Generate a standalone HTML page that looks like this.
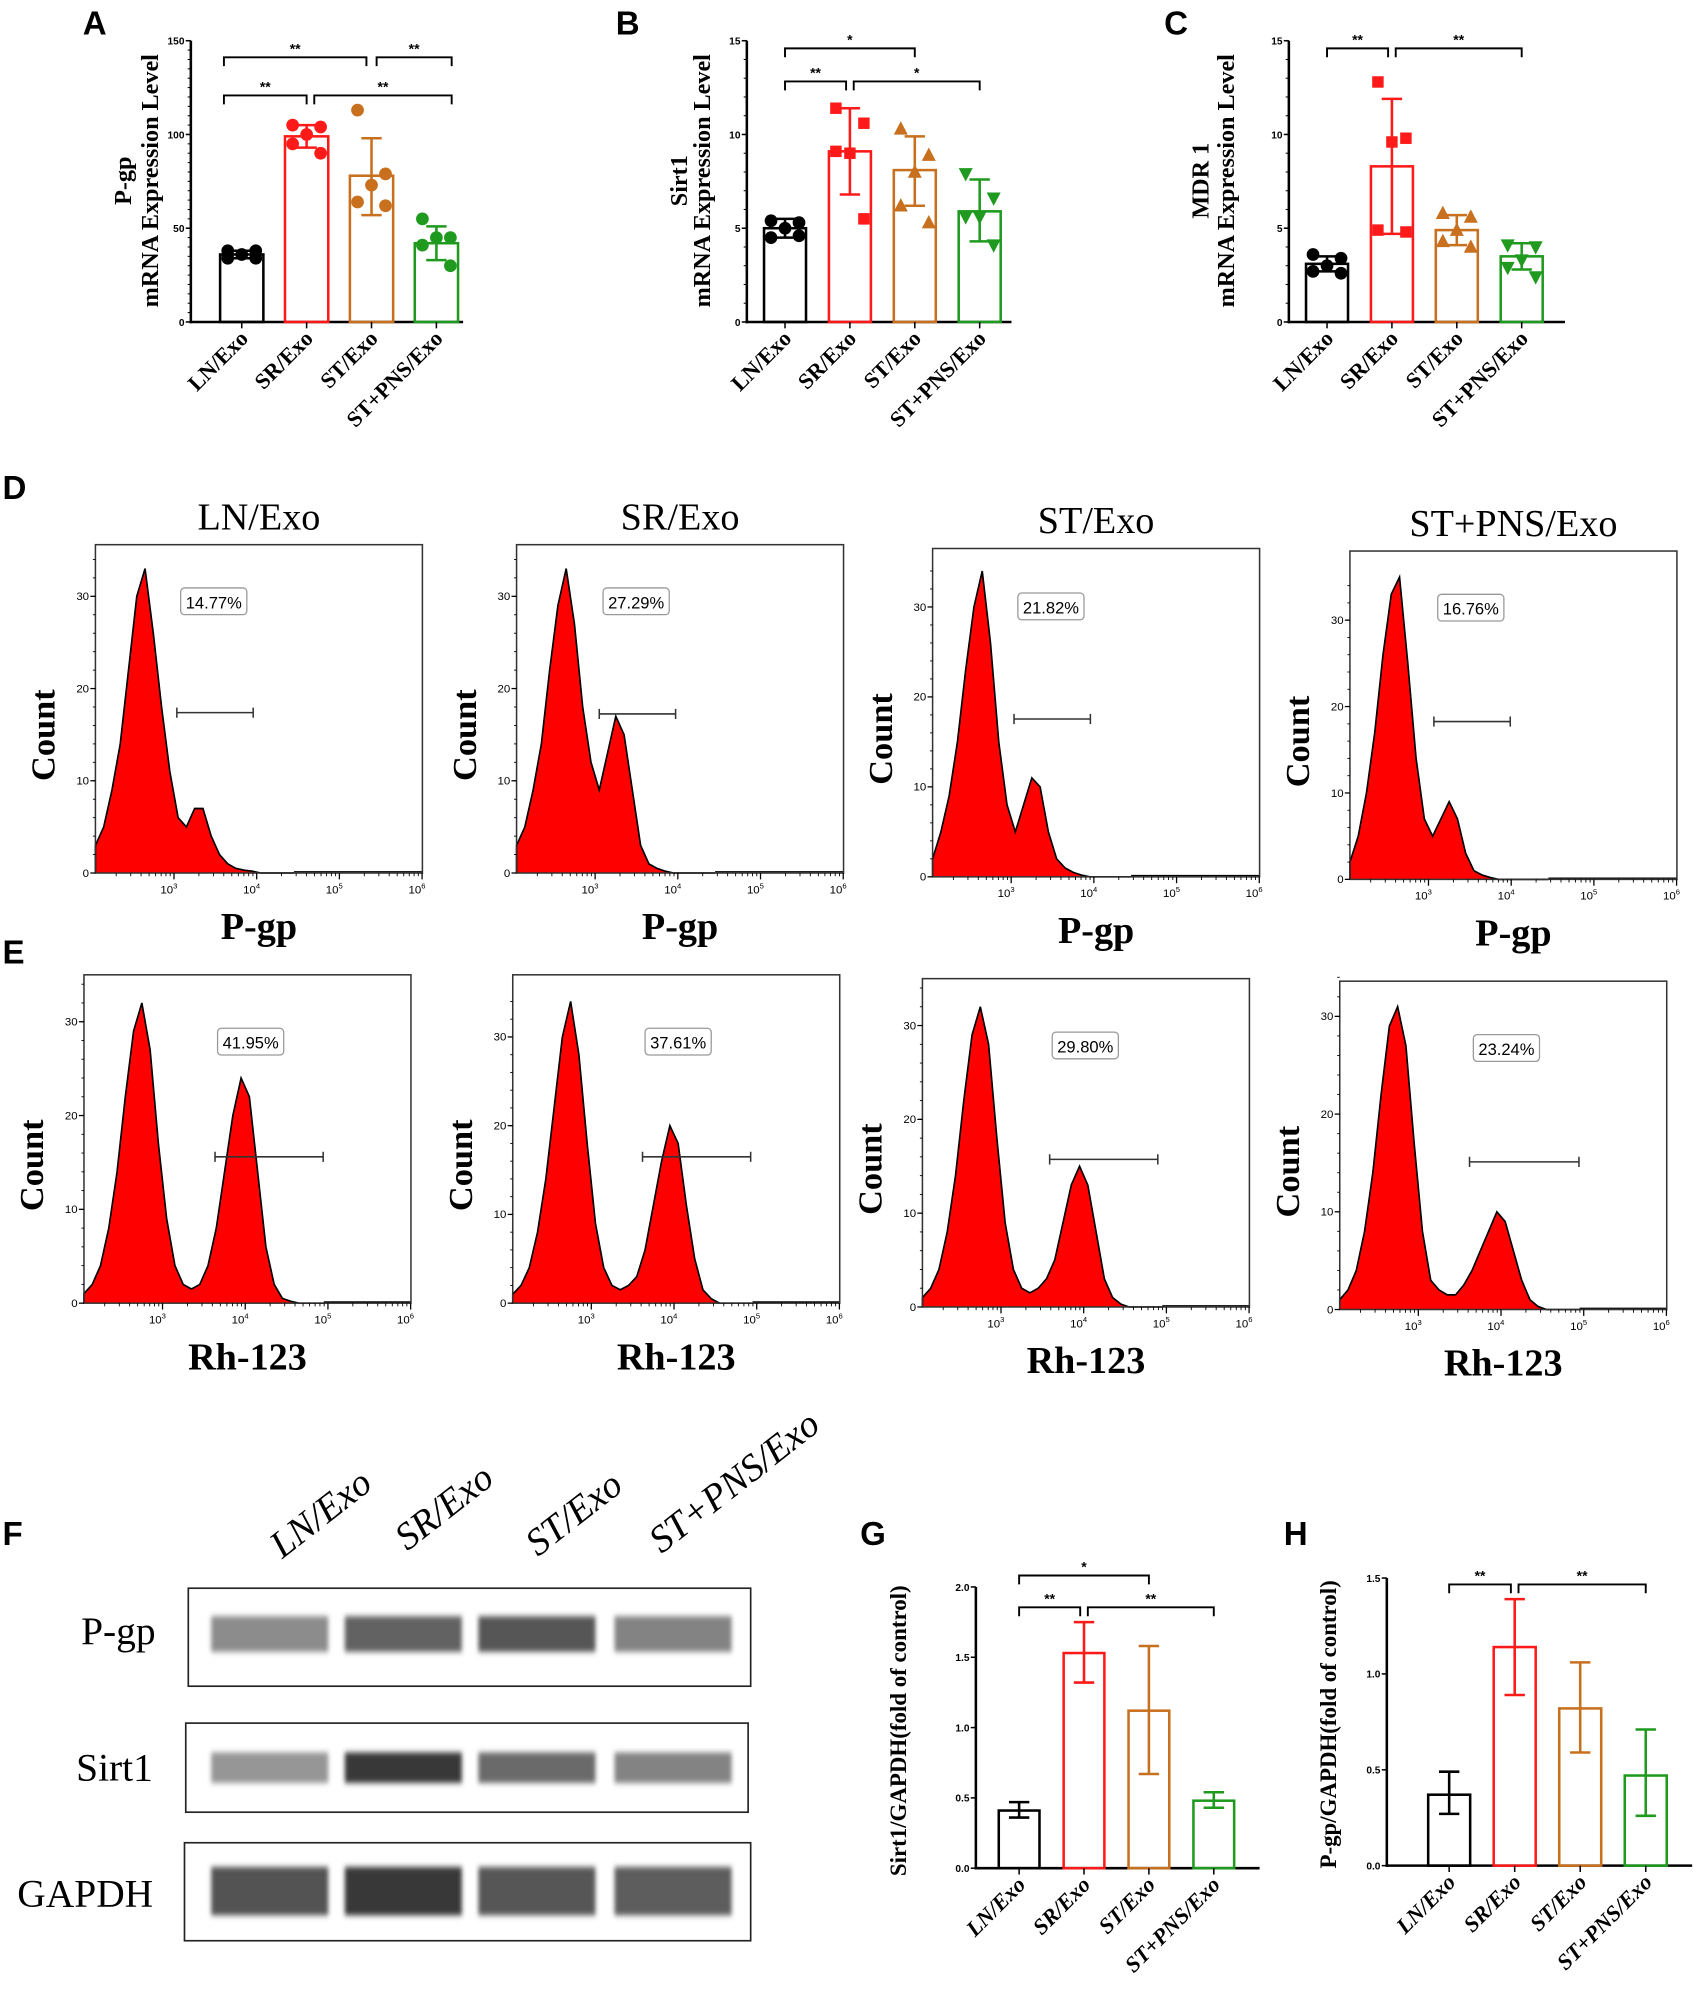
<!DOCTYPE html>
<html><head><meta charset="utf-8">
<style>
html,body{margin:0;padding:0;background:#fff;}
svg{display:block;}
text{font-family:"Liberation Serif",serif;}
.sans{font-family:"Liberation Sans",sans-serif;}
</style></head>
<body>
<svg id="fig" xmlns="http://www.w3.org/2000/svg" width="1696" height="1998" viewBox="0 0 1333 1570" preserveAspectRatio="none">
<defs>
<filter id="blur" x="-10%" y="-50%" width="120%" height="200%"><feGaussianBlur stdDeviation="1.6 2.2"/></filter>
</defs>
</svg>
<script>
// ---------- data ----------
const cats = ["LN/Exo","SR/Exo","ST/Exo","ST+PNS/Exo"];
const colors = ["#000000","#ff1a1a","#c8701e","#1f9a1f"];

const aMean = [36, 99, 78, 42];
const aLo = [34, 93, 57, 33];
const aHi = [38, 105, 98, 51];
const aPts = [[38,38,36,34,34],[105,104,100,95,90],[113,79,73,64,62],[55,45,45,41,30]];
const aTicks = [0, 50, 100, 150];

const bMean = [5.0, 9.1, 8.1, 5.9];
const bLo = [4.5, 6.8, 6.2, 4.3];
const bHi = [5.5, 11.4, 9.9, 7.6];
const bPts = [[5.4,5.3,5.0,4.5,4.6],[11.4,10.6,9.0,9.1,5.5],[10.3,8.9,8.0,6.2,5.3],[7.9,6.6,5.6,5.6,4.1]];
const bTicks = [0, 5, 10, 15];

const cMean = [3.1, 8.3, 4.9, 3.5];
const cLo = [2.7, 4.7, 4.1, 2.8];
const cHi = [3.5, 11.9, 5.7, 4.2];
const cPts = [[3.6,3.4,3.0,2.7,2.6],[12.8,9.8,9.6,4.9,4.8],[5.8,5.6,4.9,4.3,4.0],[4.1,4.0,3.3,2.9,2.4]];
const cTicks = [0, 5, 10, 15];

const gMean = [0.41, 1.53, 1.12, 0.48];
const gLo = [0.36, 1.32, 0.67, 0.43];
const gHi = [0.47, 1.75, 1.58, 0.54];
const gTicks = [0.0, 0.5, 1.0, 1.5, 2.0];

const hMean = [0.37, 1.14, 0.82, 0.47];
const hLo = [0.27, 0.89, 0.59, 0.26];
const hHi = [0.49, 1.39, 1.06, 0.71];
const hTicks = [0.0, 0.5, 1.0, 1.5];

// flow histograms (bins at log10 = 2.05 + 0.1*i)
const dHist1 = [3,5,9,14,22,30,33,26,18,11,6,5,7,7,4,2,1,0.5,0.3,0.2,0,0,0,0,0];
const dHist2 = [3,5,9,14,22,29,33,27,18,12,9,13,17,15,9,3,1,0.5,0.2,0,0,0,0,0,0];
const dHist3 = [2,5,9,15,23,30,34,26,15,8,5,8,11,10,5,2,1,0.5,0.2,0,0,0,0,0,0];
const dHist4 = [2,5,10,17,26,33,35,25,14,7,5,7,9,7,3,1,0.5,0.2,0,0,0,0,0,0,0];
const eHist1 = [1,2,4,8,14,22,29,32,27,17,9,4,2,1.5,2,4,8,14,20,24,22,14,6,2,0.5,0.2,0,0,0,0];
const eHist2 = [1,2,4,8,14,22,30,34,28,18,9,4,2,1.5,2,3,6,11,16,20,18,11,5,1.5,0.5,0,0,0,0,0];
const eHist3 = [1,2,4,8,14,22,29,32,28,18,9,4,2,1.5,2,3,5,9,13,15,13,8,3,1,0.3,0,0,0,0,0];
const eHist4 = [1,2,4,8,14,22,29,31,27,17,8,3,2,1.5,1.5,2.5,4,6,8,10,9,6,3,1,0.3,0,0,0,0,0];
const dPct = ["14.77%","27.29%","21.82%","16.76%"];
const ePct = ["41.95%","37.61%","29.80%","23.24%"];
const countTicks = [0, 10, 20, 30];
const decadeTicks = [3, 4, 5, 6];

// western blot band intensities
const pgpBand = [0.5, 0.72, 0.78, 0.55];
const sirtBand = [0.45, 0.95, 0.68, 0.55];
const gapdhBand = [0.8, 0.95, 0.78, 0.75];

// ---------- helpers ----------
const NS = "http://www.w3.org/2000/svg";
const svg = document.getElementById("fig");
function mk(tag, attrs, parent) {
  const el = document.createElementNS(NS, tag);
  for (const k in attrs) el.setAttribute(k, attrs[k]);
  (parent || svg).appendChild(el);
  return el;
}
function txt(s, attrs, parent) { const t = mk("text", attrs, parent); t.textContent = s; return t; }

function panelLetter(s, x, y) {
  const t = txt(s, {x: x, y: y, "font-size": 26, "font-weight": "bold", "class": "sans"});
  
  
}
panelLetter("A", 65, 27); panelLetter("B", 484, 27); panelLetter("C", 915, 27);
panelLetter("D", 2, 392); panelLetter("E", 2, 757); panelLetter("F", 2, 1214);
panelLetter("G", 676, 1214); panelLetter("H", 1009, 1214);

function marker(g, shape, x, y, col) {
  let m;
  if (shape === "circle") m = mk("circle", {cx: x, cy: y, r: 5, fill: col}, g);
  else if (shape === "square") m = mk("rect", {x: x-4.5, y: y-4.5, width: 9, height: 9, fill: col}, g);
  else if (shape === "tri") m = mk("polygon", {points: `${x},${y-6} ${x-5.5},${y+4.5} ${x+5.5},${y+4.5}`, fill: col}, g);
  else m = mk("polygon", {points: `${x},${y+6} ${x-5.5},${y-4.5} ${x+5.5},${y-4.5}`, fill: col}, g);
  
  
}

function barChart(cfg) {
  const g = mk("g", {});
  
  
  const yS = v => cfg.base - (v / cfg.ymax) * (cfg.base - cfg.top);
  const xS = i => cfg.x0 + i * cfg.step;
  const ax = mk("line", {x1: cfg.ax, y1: cfg.top, x2: cfg.ax, y2: cfg.base + 1, stroke: "#000", "stroke-width": 2}, g);
  
  
  const xa = mk("line", {x1: cfg.ax - 1, y1: cfg.base, x2: cfg.xEnd, y2: cfg.base, stroke: "#000", "stroke-width": 2}, g);
  
  
  cfg.ticks.forEach(v => {
    mk("line", {x1: cfg.ax - 4, y1: yS(v), x2: cfg.ax, y2: yS(v), stroke: "#000", "stroke-width": 1.2}, g);
    const t = txt(cfg.fmt(v), {x: cfg.ax - 5, y: yS(v) + 3, "font-size": 8, "text-anchor": "end", "class": "sans", "font-weight": "bold"}, g);
    
    
  });
  if (cfg.minor) {
    const n = cfg.minor;
    for (let k = 0; k <= n; k++) {
      const v = cfg.ymax * k / n;
      mk("line", {x1: cfg.ax - 2.5, y1: yS(v), x2: cfg.ax, y2: yS(v), stroke: "#000", "stroke-width": 0.8}, g);
    }
  }
  cfg.mean.forEach((m, i) => {
    const cx = xS(i), col = colors[i];
    const bar = mk("rect", {x: cx - cfg.bw/2, y: yS(m), width: cfg.bw, height: cfg.base - yS(m), fill: "none", stroke: col, "stroke-width": 2}, g);
    
    
    const eb = mk("path", {d: `M${cx},${yS(cfg.lo[i])}V${yS(cfg.hi[i])}M${cx-8},${yS(cfg.lo[i])}H${cx+8}M${cx-8},${yS(cfg.hi[i])}H${cx+8}`, stroke: col, "stroke-width": 2, fill: "none"}, g);
    
    
    if (cfg.pts) {
      const offs = [-11, 11, 0, -11, 11];
      cfg.pts[i].forEach((v, k) => marker(g, cfg.shapes[i], cx + offs[k], yS(v), col));
    }
    mk("line", {x1: cx, y1: cfg.base, x2: cx, y2: cfg.base + 5, stroke: "#000", "stroke-width": 1.2}, g);
    const lbl = txt(cats[i], {x: cx + 6, y: cfg.base + 14, "font-size": 17.5, "font-weight": "bold", "text-anchor": "end", "font-style": cfg.italic ? "italic" : "normal", transform: `rotate(-45 ${cx + 6} ${cfg.base + 14})`}, g);
    
    
  });
  cfg.brackets.forEach(b => {
    const x1 = xS(b[0]) + (b[4] || 0), x2 = xS(b[1]) + (b[5] || 0), y = b[2];
    const br = mk("path", {d: `M${x1},${y+7}V${y}H${x2}V${y+7}`, stroke: "#000", "stroke-width": 1.5, fill: "none"}, g);
    
    
    const st = txt(b[3], {x: (x1 + x2) / 2, y: y - 3, "font-size": 11, "font-weight": "bold", "class": "sans", "text-anchor": "middle"}, g);
    
    
  });
  cfg.titles.forEach(t => {
    const tt = txt(t[0], {x: t[1], y: cfg.tcy, "font-size": t[2], "font-weight": "bold", "text-anchor": "middle", transform: `rotate(-90 ${t[1]} ${cfg.tcy})`}, g);
    
    
  });
}

barChart({name: "chart-a-pgp-mrna", ax: 150, top: 32, base: 253, ymax: 150, ticks: aTicks, fmt: v => String(v), minor: 30,
  xEnd: 364, x0: 190, step: 51, bw: 34, mean: aMean, lo: aLo, hi: aHi, pts: aPts, shapes: ["circle","circle","circle","circle"],
  brackets: [[0, 2, 45, "**", -14, -4], [2, 3, 45, "**", 4, 12], [0, 1, 75, "**", -14, 0], [1, 3, 75, "**", 6, 12]],
  titles: [["P-gp", 103, 19], ["mRNA Expression Level", 124, 19]], tcy: 142});

barChart({name: "chart-b-sirt1-mrna", ax: 587, top: 32, base: 253, ymax: 15, ticks: bTicks, fmt: v => String(v), minor: 15,
  xEnd: 795, x0: 617, step: 51, bw: 33, mean: bMean, lo: bLo, hi: bHi, pts: bPts, shapes: ["circle","square","tri","invtri"],
  brackets: [[0, 2, 38, "*", 0, 0], [0, 1, 64, "**", 0, -3], [1, 3, 64, "*", 3, 0]],
  titles: [["Sirt1", 540, 19], ["mRNA Expression Level", 558, 19]], tcy: 142});

barChart({name: "chart-c-mdr1-mrna", ax: 1013, top: 32, base: 253, ymax: 15, ticks: cTicks, fmt: v => String(v), minor: 15,
  xEnd: 1230, x0: 1043, step: 51, bw: 33, mean: cMean, lo: cLo, hi: cHi, pts: cPts, shapes: ["circle","square","tri","invtri"],
  brackets: [[0, 1, 38, "**", 0, -3], [1, 3, 38, "**", 3, 0]],
  titles: [["MDR 1", 950, 19], ["mRNA Expression Level", 970, 19]], tcy: 142});

barChart({name: "chart-g-sirt1-gapdh", ax: 767, top: 1247, base: 1468, ymax: 2.0, ticks: gTicks, fmt: v => v.toFixed(1), minor: 0,
  xEnd: 990, x0: 801, step: 51, bw: 32, mean: gMean, lo: gLo, hi: gHi, pts: null, italic: true,
  brackets: [[0, 2, 1238, "*", 0, 0], [0, 1, 1263, "**", 0, -3], [1, 3, 1263, "**", 3, 0]],
  titles: [["Sirt1/GAPDH(fold of control)", 712, 18]], tcy: 1360});

barChart({name: "chart-h-pgp-gapdh", ax: 1090, top: 1240, base: 1466, ymax: 1.5, ticks: hTicks, fmt: v => v.toFixed(1), minor: 0,
  xEnd: 1330, x0: 1139, step: 51.5, bw: 33, mean: hMean, lo: hLo, hi: hHi, pts: null, italic: true,
  brackets: [[0, 1, 1245, "**", 0, -3], [1, 3, 1245, "**", 3, 0]],
  titles: [["P-gp/GAPDH(fold of control)", 1050, 18]], tcy: 1355});

// ---------- flow histograms ----------
function histo(cfg) {
  const g = mk("g", {});
  
  
  const w = 257, h = 258;
  const x0 = cfg.x, y0 = cfg.y, base = y0 + h;
  const xS = lg => x0 + (lg - 2.05) * 65;
  const yS = c => base - c / cfg.ymax * h;
  const ttl = txt(cfg.title, {x: x0 + w/2, y: y0 - 12, "font-size": 30, "text-anchor": "middle"}, g);
  
  
  let d = `M${x0},${base}`;
  cfg.data.forEach((c, i) => { d += `L${xS(2.05 + i * 0.1).toFixed(1)},${yS(c).toFixed(1)}`; });
  const last = xS(2.05 + (cfg.data.length - 1) * 0.1);
  const area = mk("path", {d: d + `L${last},${base}Z`, fill: "#ff0000", stroke: "none"}, g);
  
  
  const ln = mk("path", {d: d, fill: "none", stroke: "#000", "stroke-width": 1.3}, g);
  
  
  mk("line", {x1: last, y1: base - 1, x2: x0 + w, y2: base - 1, stroke: "#000", "stroke-width": 1}, g);
  const fr = mk("rect", {x: x0, y: y0, width: w, height: h, fill: "none", stroke: "#333", "stroke-width": 1.2}, g);
  
  
  countTicks.forEach(c => {
    mk("line", {x1: x0 - 4, y1: yS(c), x2: x0, y2: yS(c), stroke: "#000", "stroke-width": 1}, g);
    const t = txt(String(c), {x: x0 - 5, y: yS(c) + 3, "font-size": 9, "text-anchor": "end", "class": "sans"}, g);
    
    
  });
  for (let c = 0; c <= 34; c += 2) mk("line", {x1: x0 - 2, y1: yS(c), x2: x0, y2: yS(c), stroke: "#000", "stroke-width": 0.7}, g);
  decadeTicks.forEach(p => {
    const x = xS(p);
    mk("line", {x1: x, y1: base, x2: x, y2: base + 5, stroke: "#000", "stroke-width": 1}, g);
    const t = txt("10", {x: x - 4, y: base + 16, "font-size": 9, "text-anchor": "middle", "class": "sans"}, g);
    const sup = mk("tspan", {dy: -4, "font-size": 6}, t); sup.textContent = String(p);
    
    
    for (let k = 2; k <= 9; k++) { const xm = xS(p - 1 + Math.log10(k)); if (xm > x0) mk("line", {x1: xm, y1: base, x2: xm, y2: base + 2.5, stroke: "#000", "stroke-width": 0.7}, g); }
  });
  const gt = mk("path", {d: `M${cfg.g1},${cfg.gy-4}V${cfg.gy+4}M${cfg.g1},${cfg.gy}H${cfg.g2}M${cfg.g2},${cfg.gy-4}V${cfg.gy+4}`, stroke: "#333", "stroke-width": 1.2, fill: "none"}, g);
  
  
  const bx = mk("rect", {x: cfg.px - 26, y: cfg.py - 11, width: 52, height: 21, rx: 3, fill: "#fff", stroke: "#999", "stroke-width": 1}, g);
  
  
  const pt = txt(cfg.pct, {x: cfg.px, y: cfg.py + 5, "font-size": 13, "text-anchor": "middle", "class": "sans"}, g);
  
  
  const xl = txt(cfg.xlab, {x: x0 + w/2, y: base + 52, "font-size": 30, "font-weight": "bold", "text-anchor": "middle"}, g);
  
  
  const cy = y0 + h * 0.58, cxl = x0 - 32;
  const yl = txt("Count", {x: cxl, y: cy, "font-size": 27, "font-weight": "bold", "text-anchor": "middle", transform: `rotate(-90 ${cxl} ${cy})`}, g);
  
  
}
histo({name: "histogram-d-ln", title: "LN/Exo", x: 75, y: 428, ymax: 35.6, data: dHist1, pct: dPct[0], px: 168, py: 473, g1: 139, g2: 199, gy: 560, xlab: "P-gp"});
histo({name: "histogram-d-sr", title: "SR/Exo", x: 406, y: 428, ymax: 35.6, data: dHist2, pct: dPct[1], px: 500, py: 473, g1: 471, g2: 531, gy: 561, xlab: "P-gp"});
histo({name: "histogram-d-st", title: "ST/Exo", x: 733, y: 431, ymax: 36.5, data: dHist3, pct: dPct[2], px: 826, py: 477, g1: 797, g2: 857, gy: 565, xlab: "P-gp"});
histo({name: "histogram-d-stpns", title: "ST+PNS/Exo", x: 1061, y: 433, ymax: 38, data: dHist4, pct: dPct[3], px: 1156, py: 478, g1: 1127, g2: 1187, gy: 567, xlab: "P-gp"});
histo({name: "histogram-e-ln", title: "", x: 66, y: 766, ymax: 35, data: eHist1, pct: ePct[0], px: 197, py: 819, g1: 169, g2: 254, gy: 909, xlab: "Rh-123"});
histo({name: "histogram-e-sr", title: "", x: 403, y: 766, ymax: 37, data: eHist2, pct: ePct[1], px: 533, py: 819, g1: 505, g2: 590, gy: 909, xlab: "Rh-123"});
histo({name: "histogram-e-st", title: "", x: 725, y: 769, ymax: 35, data: eHist3, pct: ePct[2], px: 853, py: 822, g1: 825, g2: 910, gy: 911, xlab: "Rh-123"});
histo({name: "histogram-e-stpns", title: "", x: 1053, y: 771, ymax: 33.6, data: eHist4, pct: ePct[3], px: 1184, py: 824, g1: 1155, g2: 1241, gy: 913, xlab: "Rh-123"});

// ---------- western blot ----------
const blot = mk("g", {});


const laneX = [212, 317, 422, 529];
function blotRow(label, lx, ly, bx, by, bw, bh, inten, bandY, bandH, name) {
  const fr = mk("rect", {x: bx, y: by, width: bw, height: bh, fill: "#fff", stroke: "#222", "stroke-width": 1.3}, blot);
  
  
  inten.forEach((v, i) => {
    const shade = Math.round(235 - 190 * v);
    const b = mk("rect", {x: laneX[i] - 46, y: bandY, width: 92, height: bandH, fill: `rgb(${shade},${shade},${shade})`, filter: "url(#blur)"}, blot);
    
    
  });
  const t = txt(label, {x: lx, y: ly, "font-size": 31, "text-anchor": "middle"}, blot);
  
  
}
blotRow("P-gp", 93, 1292, 148, 1248, 442, 77, pgpBand, 1270, 28, "pgp");
blotRow("Sirt1", 90, 1399, 146, 1354, 442, 70, sirtBand, 1377, 24, "sirt1");
blotRow("GAPDH", 67, 1498, 145, 1448, 445, 77, gapdhBand, 1467, 38, "gapdh");
const laneLabelPos = [[258, 1197], [355, 1192], [457, 1197], [583, 1172]];
cats.forEach((c, i) => {
  const p = laneLabelPos[i];
  const t = txt(c, {x: p[0], y: p[1], "font-size": 30, "font-style": "italic", "text-anchor": "middle", transform: `rotate(-38 ${p[0]} ${p[1]})`}, blot);
  
  
});
</script>
</body></html>
